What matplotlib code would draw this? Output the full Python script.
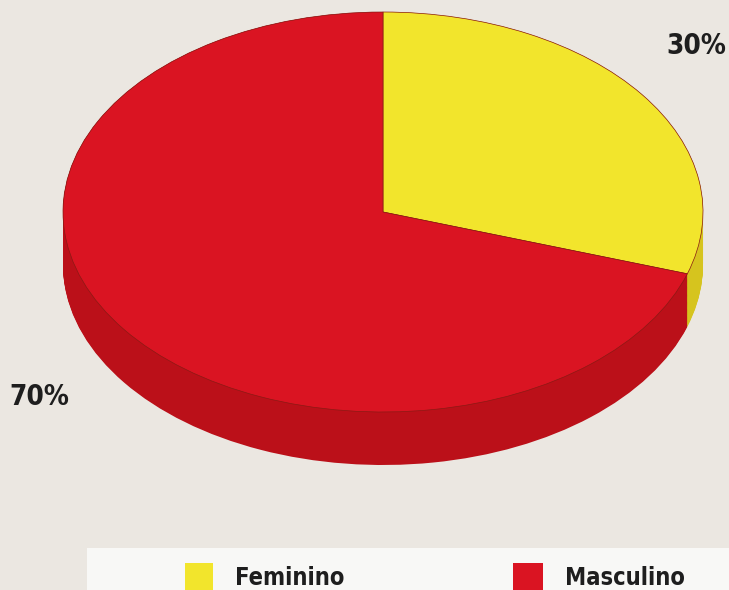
import matplotlib.pyplot as plt
from matplotlib.patches import Rectangle

# data
categorias = ["Feminino", "Masculino"]
valores = [30, 70]
rotulos = ["30%", "70%"]
cores_topo = ["#f2e52c", "#da1422"]
cores_lado = ["#d6c41e", "#bb1019"]

W, H = 729, 590
fig = plt.figure(figsize=(W / 100, H / 100), dpi=100)
fig.patch.set_facecolor("#ebe7e1")
ax = fig.add_axes([0, 0, 1, 1])
ax.set_facecolor("#ebe7e1")

# y squashed so the pie reads as a tilted ellipse (ry/rx = 0.625)
esc = 0.625
raio = 320
cx = 383
cy = (H - 212) / esc
prof = 53 / esc

# side: stack of darker pies
n = 60
for i in range(n + 1):
    off = prof * (1 - i / n)
    ax.pie(valores, colors=cores_lado, startangle=90, counterclock=False,
           center=(cx, cy - off), radius=raio, frame=True,
           wedgeprops=dict(linewidth=0))

# top face
ax.pie(valores, colors=cores_topo, startangle=90, counterclock=False,
       center=(cx, cy), radius=raio, frame=True,
       wedgeprops=dict(linewidth=0.5, edgecolor="#8a1a14"))

ax.set_aspect("auto")
ax.set_xlim(0, W)
ax.set_ylim(0, H / esc)
ax.axis("off")

fonte = ["DejaVu Sans"]
fig.text(696 / W, 1 - 46 / H, rotulos[0], ha="center", va="center",
         fontsize=20, fontweight="bold", fontstretch="condensed",
         color="#1e1e1e", family=fonte)
fig.text(39 / W, 1 - 397 / H, rotulos[1], ha="center", va="center",
         fontsize=20, fontweight="bold", fontstretch="condensed",
         color="#1e1e1e", family=fonte)

# legend box
fig.patches.append(Rectangle((87 / W, 0), 1 - 87 / W, 42 / H,
                             transform=fig.transFigure, facecolor="#f8f8f6",
                             edgecolor="none"))
for x0, x1, cor, nome in [(185, 213, cores_topo[0], categorias[0]),
                          (513, 543, cores_topo[1], categorias[1])]:
    fig.patches.append(Rectangle((x0 / W, 0), (x1 - x0) / W, 27 / H,
                                 transform=fig.transFigure, facecolor=cor,
                                 edgecolor="none"))
    fig.text((x1 + 22) / W, 12 / H, nome, ha="left", va="center",
             fontsize=17, fontweight="bold", fontstretch="condensed",
             color="#1e1e1e", family=fonte)

fig.savefig("out.png", dpi=100, facecolor=fig.get_facecolor())
